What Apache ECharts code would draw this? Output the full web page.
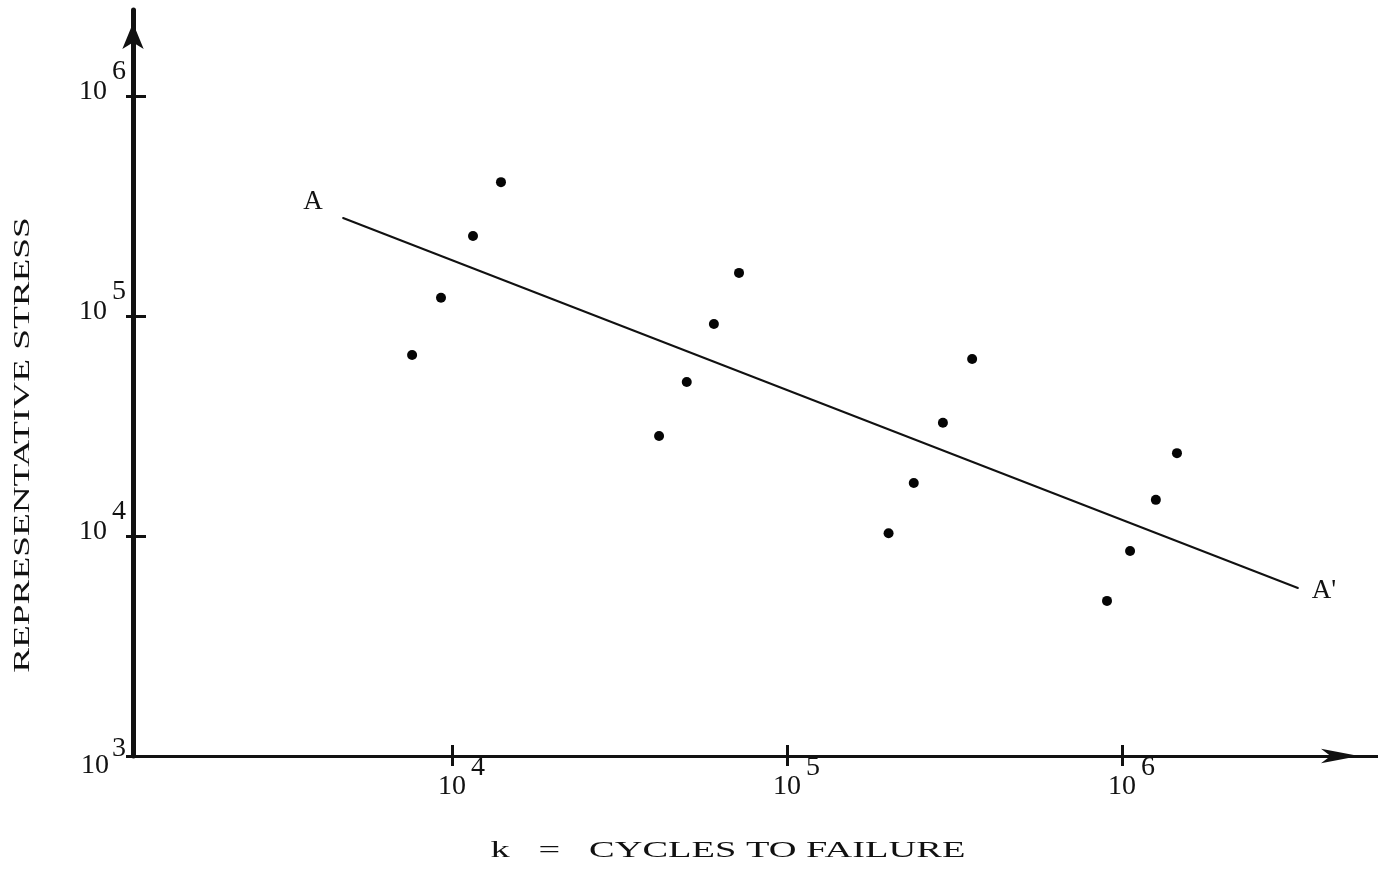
<!DOCTYPE html>
<html>
<head>
<meta charset="utf-8">
<script src="https://cdn.jsdelivr.net/npm/echarts@6/dist/echarts.min.js"></script>
<style>
html,body{margin:0;padding:0;background:#fff;}
#c{width:1378px;height:873px;}
</style>
</head>
<body>
<div id="c"></div>
<script>
// ---- data ----
const cycles = [7600, 9270, 11550, 14000, 41500, 50200, 60500, 71900, 201000, 239000, 292000, 357000, 902000, 1057000, 1262000, 1459000];
const stress = [66500, 121000, 231000, 406000, 28500, 50100, 92000, 157000, 10300, 17400, 32700, 63800, 5070, 8550, 14600, 23800];
const lineCycles = [4730, 3350000];
const lineStress = [279000, 5800];
const lineLabels = ['A', "A'"];
const xTickValues = [10000, 100000, 1000000];
const yTickValues = [1000, 10000, 100000, 1000000];
const xRange = [1116, 5810000];
const yRange = [1000, 2460000];
const xTitle = 'k   =   CYCLES TO FAILURE';
const yTitle = 'REPRESENTATIVE STRESS';

const INK = '#111';
const SERIF = '"Liberation Serif", "DejaVu Serif", serif';

function powLabelX(v) {
  const e = Math.round(Math.log10(v));
  return '{b|10}{s|' + e + '}';
}
function powLabelY(v) {
  const e = Math.round(Math.log10(v));
  // the corner label (10^3) sits a little lower in the original
  if (e === 3) return '{b3|10}{s3|' + e + '}';
  return '{b|10}{s|' + e + '}';
}
const richX = {
  b: { fontSize: 28, fontFamily: SERIF, color: INK, padding: [0, 0, 0, 19] },
  s: { fontSize: 28, fontFamily: SERIF, color: INK, padding: [0, 0, 38, 5] }
};
const richY = {
  b: { fontSize: 28, fontFamily: SERIF, color: INK },
  s: { fontSize: 28, fontFamily: SERIF, color: INK, padding: [0, 0, 40, 5] },
  b3: { fontSize: 28, fontFamily: SERIF, color: INK, padding: [29, 0, 0, 0] },
  s3: { fontSize: 28, fontFamily: SERIF, color: INK, padding: [0, 0, 5, 3] }
};

const chart = echarts.init(document.getElementById('c'), null, { renderer: 'canvas' });

const scatterData = cycles.map((c, i) => [c, stress[i]]);
const lineData = lineCycles.map((c, i) => ({
  value: [c, lineStress[i]],
  label: {
    show: true,
    formatter: lineLabels[i],
    position: 'inside',
    offset: i === 0 ? [-30, -16] : [26, 3],
    fontSize: 27,
    fontFamily: SERIF,
    color: INK
  }
}));

const baseX = {
  type: 'log',
  gridIndex: 0,
  position: 'bottom',
  min: xRange[0],
  max: xRange[1],
  splitLine: { show: false },
  minorTick: { show: false }
};
const baseY = {
  type: 'log',
  gridIndex: 0,
  position: 'left',
  min: yRange[0],
  max: yRange[1],
  splitLine: { show: false },
  minorTick: { show: false }
};

chart.setOption({
  backgroundColor: '#fff',
  animation: false,
  grid: { left: 133, right: 0, top: 10, bottom: 117, containLabel: false, outerBoundsMode: 'none' },
  xAxis: [
    Object.assign({}, baseX, {
      axisLine: { show: true, onZero: false, symbol: ['none', 'arrow'], symbolSize: [11, 38], symbolOffset: [0, -19],
        lineStyle: { color: INK, width: 3 } },
      axisTick: { show: true, inside: false, length: 10, customValues: xTickValues, lineStyle: { color: INK, width: 3 } },
      axisLabel: { show: true, customValues: xTickValues, margin: -2, formatter: powLabelX, rich: richX, hideOverlap: false }
    }),
    Object.assign({}, baseX, {
      axisLine: { show: false, onZero: false },
      axisTick: { show: true, inside: true, length: 11, customValues: xTickValues, lineStyle: { color: INK, width: 3 } },
      axisLabel: { show: false }
    })
  ],
  yAxis: [
    Object.assign({}, baseY, {
      axisLine: { show: true, onZero: false, symbol: ['none', 'arrow'], symbolSize: [16, 26], symbolOffset: [0, -13],
        lineStyle: { color: INK, width: 5 } },
      axisTick: { show: true, inside: false, length: 7, customValues: yTickValues, lineStyle: { color: INK, width: 3 } },
      axisLabel: { show: true, customValues: yTickValues, margin: 7, formatter: powLabelY, rich: richY,
        padding: [0, 0, 9, 0], hideOverlap: false }
    }),
    Object.assign({}, baseY, {
      axisLine: { show: false, onZero: false },
      axisTick: { show: true, inside: true, length: 13, customValues: yTickValues, lineStyle: { color: INK, width: 3 } },
      axisLabel: { show: false }
    })
  ],
  series: [
    {
      type: 'line',
      xAxisIndex: 0, yAxisIndex: 0,
      data: lineData,
      symbol: 'circle',
      symbolSize: 2,
      showSymbol: true,
      itemStyle: { color: INK },
      lineStyle: { color: INK, width: 2 },
      z: 2
    },
    {
      type: 'scatter',
      xAxisIndex: 0, yAxisIndex: 0,
      data: scatterData,
      symbol: 'circle',
      symbolSize: 10,
      itemStyle: { color: '#050505', opacity: 1 },
      z: 3
    }
  ],
  graphic: [
    {
      type: 'text',
      x: 728, y: 851,
      scaleX: 1.67,
      style: { text: xTitle, fontSize: 23, fontFamily: SERIF, fill: INK, align: 'center', verticalAlign: 'middle' }
    },
    {
      type: 'text',
      x: 23, y: 445,
      rotation: Math.PI / 2,
      scaleX: 1.62,
      style: { text: yTitle, fontSize: 23, fontFamily: SERIF, fill: INK, align: 'center', verticalAlign: 'middle' }
    }
  ]
});
</script>
</body>
</html>
